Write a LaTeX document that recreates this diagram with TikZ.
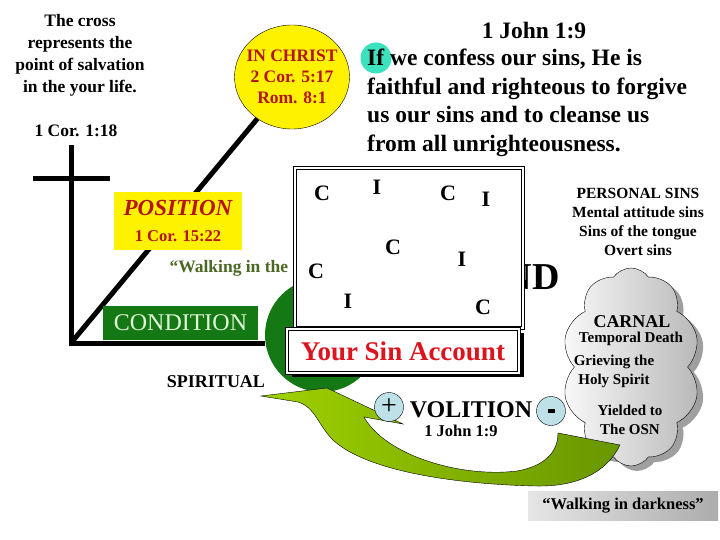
\documentclass[tikz,border=0pt]{standalone}
\usepackage{fontspec}
\setmainfont{Liberation Serif}
\usetikzlibrary{shapes.geometric,shapes.symbols,shadows}

\definecolor{verseRed}{RGB}{180,20,20}
\definecolor{accountRed}{RGB}{220,20,30}
\definecolor{condGreen}{RGB}{20,120,20}
\definecolor{paleGreen}{RGB}{225,245,215}
\definecolor{walkGreen}{RGB}{75,105,35}
\definecolor{limeGreen}{RGB}{160,210,0}
\definecolor{oliveGreen}{RGB}{104,150,0}
\definecolor{signBlue}{RGB}{190,225,232}
\definecolor{ifTeal}{RGB}{60,225,190}

\begin{document}
\begin{tikzpicture}[x=1pt,y=-1pt,
  bar/.style={line width=5pt},
  note/.style={font=\fontsize{17.5}{22}\selectfont\bfseries, align=center},
  verse/.style={font=\fontsize{23.5}{28.5}\selectfont\bfseries, align=left, inner sep=0pt},
  sinletter/.style={font=\fontsize{22}{22}\selectfont\bfseries},
  cloudtext/.style={font=\fontsize{15}{19}\selectfont\bfseries, align=center},
  sign/.style={circle, draw, fill=signBlue, minimum size=29pt, inner sep=0pt}]

\useasboundingbox (0,0) rectangle (720,540);

\coordinate (crosstop) at (71,145);
\coordinate (corner) at (71,343);
\coordinate (armleft) at (33,179);
\coordinate (armright) at (110,179);

\node[note] (crossnote) at (80,55) {The cross\\represents the\\point of salvation\\in the your life.};
\node[note] (crossref) at (76,131) {1 Cor. 1:18};

\node[circle, fill=condGreen, minimum size=114pt] (greenball) at (322,335) {};

\node[ellipse, draw, fill=yellow, minimum width=115pt, minimum height=104pt] (inchrist) at (292,77) {};
\node[note, font=\fontsize{17.5}{21}\selectfont\bfseries, text=verseRed] (inchristtext) at (inchrist) {IN CHRIST\\2 Cor. 5:17\\Rom. 8:1};

\draw[bar] (crosstop) -- (corner) -- (corner -| greenball.west);
\draw[bar] (armleft) -- (armright);
\draw[bar] (corner) -- (inchrist);

\node[fill=yellow, minimum width=128pt, minimum height=58pt, align=center, text=verseRed,
  font=\fontsize{16.5}{26}\selectfont\bfseries] (position) at (178,221)
  {{\fontsize{23}{26}\selectfont\itshape POSITION}\\1 Cor. 15:22};

\node[anchor=west, text=walkGreen, font=\fontsize{17.5}{20}\selectfont\bfseries] (walklight) at (166,268) {“Walking in the};
\node[anchor=east, font=\fontsize{38}{40}\selectfont\bfseries] (nd) at (563,277) {ND};

\node[draw, line width=1pt, double, double distance=2pt, fill=white, minimum width=228pt, minimum height=160pt] (ledger) at (409,248) {};
\foreach \t/\x/\y [count=\n] in {C/322/193, I/377/187, C/448/193, I/486/199, C/393/247, I/462/259, C/316/271, I/348/301, C/483/307}
  \node[sinletter] (letter\n) at (\x,\y) {\t};

\node[draw, line width=0.8pt, double, double distance=2pt, fill=white, minimum width=232pt, minimum height=44pt,
  drop shadow={shadow xshift=5pt, shadow yshift=-4pt, fill=black, opacity=1},
  text=accountRed, font=\fontsize{27}{30}\selectfont\bfseries] (account) at (403,351) {Your Sin Account};

\node[fill=condGreen, text=paleGreen, minimum width=155pt, minimum height=34pt, font=\fontsize{24}{26}\selectfont] (condition) at (180.5,323) {CONDITION};
\node[font=\fontsize{18}{20}\selectfont\bfseries] (spiritual) at (216,382) {SPIRITUAL};

\node[cloud, cloud puffs=10, cloud puff arc=110, aspect=0.7, minimum width=138pt, minimum height=198pt, draw,
  left color=gray!5, right color=gray!55,
  drop shadow={shadow xshift=6pt, shadow yshift=-5pt, fill=gray!75, opacity=1}] (carnal) at (631,367) {};
\node[font=\fontsize{18}{20}\selectfont\bfseries] (carnaltitle) at (632,322) {CARNAL};
\node[cloudtext] (death) at (631,339) {Temporal Death};
\node[cloudtext] (grieving) at (614,371) {Grieving the\\Holy Spirit};
\node[cloudtext] (yielded) at (630,420) {Yielded to\\The OSN};

\draw[thin, left color=limeGreen, right color=oliveGreen]
  (261,396) -- (327,388) -- (403,424) -- (364,417)
  .. controls (385,455) and (460,478) .. (517,471)
  .. controls (545,466) and (558,452) .. (558,433)
  -- (620,445)
  .. controls (606,474) and (575,487) .. (535,486)
  .. controls (450,484) and (365,470) .. (333,440)
  .. controls (318,425) and (315,407) .. (298,402)
  -- cycle;

\node[sign, font=\fontsize{28}{28}\selectfont] (plus) at (389,407) {+};
\node[sign] (minus) at (551,411) {\rule{7pt}{3.5pt}};
\node[font=\fontsize{24}{26}\selectfont\bfseries] (volition) at (471,410) {VOLITION};
\node[font=\fontsize{16.5}{18}\selectfont\bfseries] (volref) at (461,431) {1 John 1:9};

\node[cloudtext, font=\fontsize{15.5}{19}\selectfont\bfseries] (personal) at (638,222) {PERSONAL SINS\\Mental attitude sins\\Sins of the tongue\\Overt sins};

\node[circle, fill=ifTeal, minimum size=31pt] (ifdot) at (376,58) {};
\node[font=\fontsize{23.5}{26}\selectfont\bfseries] (versetitle) at (534,31) {1 John 1:9};
\node[verse, anchor=west] (verse) at (367,103) {If we confess our sins, He is\\faithful and righteous to forgive\\us our sins and to cleanse us\\from all unrighteousness.};

\node[left color=gray!20, right color=gray!65, minimum width=190pt, minimum height=29pt,
  font=\fontsize{16.5}{18}\selectfont\bfseries] (darkness) at (623,506) {“Walking in darkness”};
\end{tikzpicture}
\end{document}
